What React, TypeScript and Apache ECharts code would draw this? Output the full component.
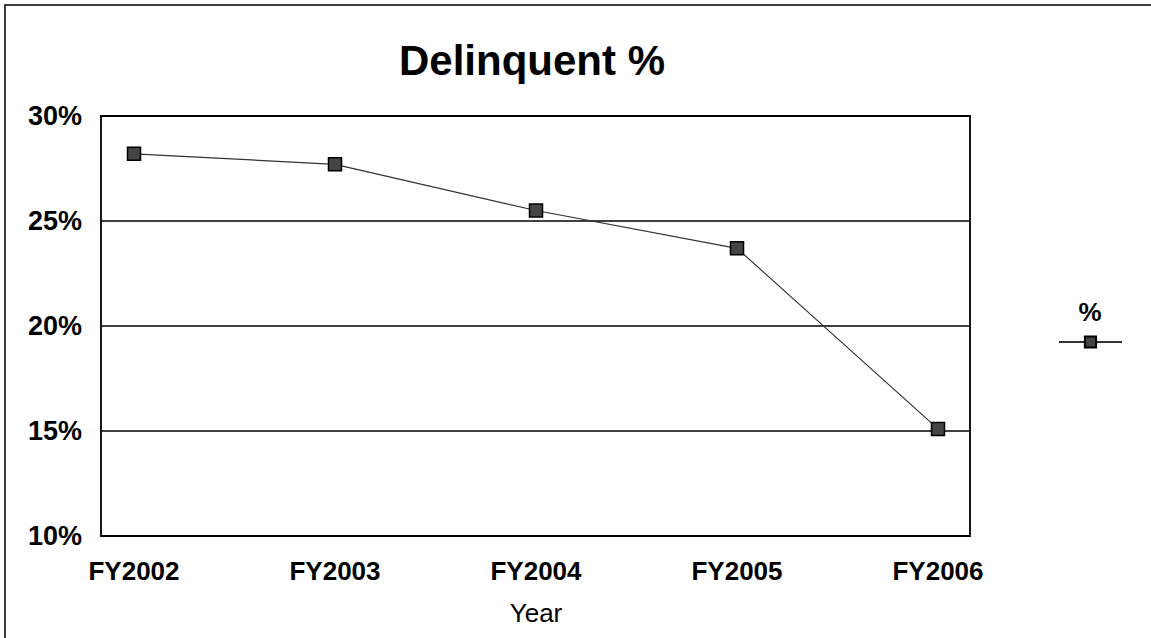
import React, { useEffect, useRef } from "react";
import * as echarts from "echarts";

const categories = ["FY2002", "FY2003", "FY2004", "FY2005", "FY2006"];
const delinquentPct = [28.2, 27.7, 25.5, 23.7, 15.1];
const seriesName = "%";
const chartTitle = "Delinquent %";
const xAxisName = "Year";
const yMin = 10;
const yMax = 30;
const yInterval = 5;

export default function App() {
  const ref = useRef<HTMLDivElement>(null);
  useEffect(() => {
    if (!ref.current) return;
    const chart = echarts.init(ref.current, null, { renderer: "svg" });
    const font = "'Liberation Sans', Arial, Helvetica, sans-serif";
    chart.setOption({
      animation: false,
      backgroundColor: "#fff",
      textStyle: { fontFamily: font },
      title: {
        text: chartTitle,
        left: 532,
        textAlign: "center",
        top: 39,
        padding: 0,
        textStyle: { fontFamily: font, fontSize: 42, fontWeight: "bold", color: "#000" },
      },
      legend: {
        left: 1058,
        top: 335,
        padding: 0,
        itemWidth: 63,
        itemHeight: 14,
        formatter: () => "",
        data: [seriesName],
      },
      grid: [
        { left: 101, right: 181, top: 116, bottom: 102, show: true, borderColor: "#000", borderWidth: 1.8, backgroundColor: "transparent", containLabel: false },
        { left: 134, right: 213, top: 116, bottom: 102, containLabel: false },
      ],
      xAxis: [
        { type: "category", gridIndex: 0, data: categories, show: false },
        {
          type: "category",
          gridIndex: 1,
          data: categories,
          boundaryGap: false,
          axisLine: { show: false },
          axisTick: { show: false },
          axisLabel: { fontSize: 26, fontWeight: "bold", color: "#000", margin: 22, fontFamily: font },
          name: xAxisName,
          nameLocation: "middle",
          nameGap: 64,
          nameTextStyle: { fontSize: 26, color: "#000", fontFamily: font },
          splitLine: { show: false },
        },
      ],
      yAxis: [
        {
          type: "value",
          gridIndex: 0,
          min: yMin,
          max: yMax,
          interval: yInterval,
          axisLine: { show: false },
          axisTick: { show: false },
          axisLabel: { formatter: "{value}%", fontSize: 27, fontWeight: "bold", color: "#000", margin: 19, fontFamily: font },
          splitLine: { show: true, lineStyle: { color: "#000", width: 1.5 } },
        },
        {
          type: "value",
          gridIndex: 1,
          min: yMin,
          max: yMax,
          interval: yInterval,
          show: false,
          splitLine: { show: false },
        },
      ],
      graphic: [
        { type: "rect", shape: { x: 5, y: 5, width: 1300, height: 800 }, style: { fill: "none", stroke: "#000", lineWidth: 1.5 }, silent: true },
        { type: "text", x: 1090, y: 312, style: { text: "%", fontSize: 26, fontWeight: "bold", fill: "#000", align: "center", verticalAlign: "middle", fontFamily: font } },
      ],
      series: [
        {
          name: seriesName,
          type: "line",
          xAxisIndex: 1,
          yAxisIndex: 1,
          data: delinquentPct,
          symbol: "rect",
          symbolSize: 13,
          itemStyle: { color: "#444", borderColor: "#000", borderWidth: 1.5 },
          lineStyle: { color: "#333", width: 1.2 },
        },
      ],
    });
    return () => chart.dispose();
  }, []);
  return <div ref={ref} style={{ position: "absolute", left: 0, top: 0, width: 1151, height: 638 }} />;
}
